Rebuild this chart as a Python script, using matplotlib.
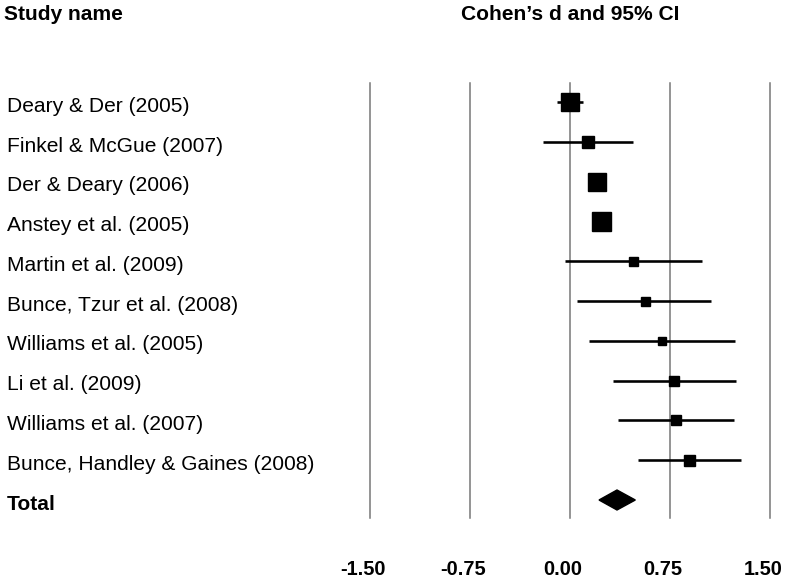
import numpy as np
import matplotlib
matplotlib.use('Agg')
import matplotlib.pyplot as plt
from matplotlib.patches import Polygon
import matplotlib.transforms as mtransforms

plt.rcParams['font.family'] = ['Liberation Sans', 'DejaVu Sans']

studies = ['Deary & Der (2005)', 'Finkel & McGue (2007)', 'Der & Deary (2006)',
           'Anstey et al. (2005)', 'Martin et al. (2009)', 'Bunce, Tzur et al. (2008)',
           'Williams et al. (2005)', 'Li et al. (2009)', 'Williams et al. (2007)',
           'Bunce, Handley & Gaines (2008)']
d = [0.00, 0.135, 0.205, 0.23, 0.475, 0.56, 0.69, 0.78, 0.795, 0.895]
lower = [-0.10, -0.205, 0.165, 0.19, -0.04, 0.055, 0.14, 0.32, 0.36, 0.51]
upper = [0.10, 0.475, 0.245, 0.27, 0.99, 1.06, 1.24, 1.245, 1.23, 1.28]
weight = [18, 12, 18, 19, 9, 9, 8, 9.5, 10, 11]  # relative box size

total_d = 0.3525
total_lower = 0.2175
total_upper = 0.49

xticks = [-1.50, -0.75, 0.00, 0.75, 1.50]

W, H = 789, 579
fig = plt.figure(figsize=(W / 100, H / 100), dpi=100)
ax = fig.add_axes([0, 0, 1, 1])
ax.axis('off')

# pixel -> data mapping: x=0 at px 570, 0.75 per 100 px; rows 39.8 px apart from px 102
px_per_unit = 100 / 0.75
ax.set_xlim((0 - 570) / px_per_unit, (W - 570) / px_per_unit)
row_px = 39.8
ax.set_ylim((H - 102) / row_px, (0 - 102) / row_px)

n = len(studies)
total_row = n
left_x = -570 / px_per_unit

# reference lines
for xt in xticks:
    ax.plot([xt, xt], [(83 - 102) / row_px, (518 - 102) / row_px], color='#777777', lw=1.1, zorder=1)

# studies
box_pt = 0.72  # 1 px in points at 100 dpi
for i in range(n):
    ax.plot([lower[i], upper[i]], [i, i], color='black', lw=2.6 * box_pt, solid_capstyle='butt', zorder=2)
    ax.plot(d[i], i, marker='s', color='black', markersize=weight[i] * box_pt, zorder=3)
    ax.text(left_x + 7 / px_per_unit, i + 9.7 / row_px, studies[i],
            fontsize=15.1, ha='left', va='baseline')

# total diamond
h = 10 / row_px
diamond = Polygon([[total_lower, total_row], [total_d, total_row - h],
                   [total_upper, total_row], [total_d, total_row + h]],
                  closed=True, facecolor='black', edgecolor='black', zorder=3)
ax.add_patch(diamond)
ax.text(left_x + 7 / px_per_unit, total_row + 9.7 / row_px, 'Total',
        fontsize=15.1, fontweight='bold', ha='left', va='baseline')

# headers
ax.text(left_x + 4 / px_per_unit, (20 - 102) / row_px, 'Study name',
        fontsize=15.1, fontweight='bold', ha='left', va='baseline')
ax.text(0.0, (20 - 102) / row_px, 'Cohen\u2019s d and 95% CI',
        fontsize=15.1, fontweight='bold', ha='center', va='baseline')

# axis labels under the lines
shift = mtransforms.offset_copy(ax.transData, fig=fig, x=-7, y=0, units='dots')
for xt in xticks:
    ax.text(xt, (575 - 102) / row_px, f'{xt:.2f}', transform=shift,
            fontsize=14.4, fontweight='bold', ha='center', va='baseline')

fig.savefig('out.png', dpi=100, facecolor='white')
